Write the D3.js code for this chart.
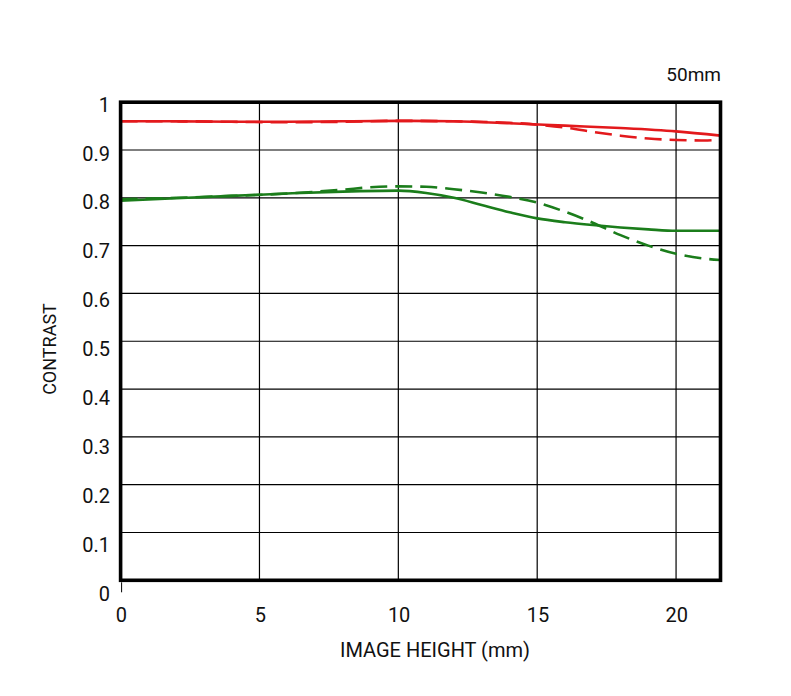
<!DOCTYPE html>
<html>
<head>
<meta charset="utf-8">
<script src="https://cdn.jsdelivr.net/npm/d3@7"></script>
<style>
  html, body { margin: 0; padding: 0; background: #fff; }
  svg { display: block; }
  text { font-family: Roboto, "Liberation Sans", sans-serif; fill: #111; }
</style>
</head>
<body>
<svg id="chart" width="791" height="696"></svg>
<script>
// ---- data ----
const lensLabel = "50mm";
const xTicks = [0, 5, 10, 15, 20];
const yTicks = [0, 0.1, 0.2, 0.3, 0.4, 0.5, 0.6, 0.7, 0.8, 0.9, 1];
const yTickLabels = ["0", "0.1", "0.2", "0.3", "0.4", "0.5", "0.6", "0.7", "0.8", "0.9", "1"];

const redSolidX = [0, 2, 4, 6, 8, 10, 12, 14, 16, 18, 20, 21.6];
const redSolidY = [0.960, 0.960, 0.959, 0.959, 0.960, 0.961, 0.960, 0.956, 0.951, 0.946, 0.939, 0.930];

const redDashX = [0, 2, 4, 6, 8, 10, 12, 14, 15, 16, 17, 18, 19, 20, 21, 21.6];
const redDashY = [0.960, 0.960, 0.959, 0.958, 0.959, 0.961, 0.960, 0.957, 0.953, 0.947, 0.938, 0.930, 0.924, 0.921, 0.920, 0.922];

const greenSolidX = [0, 2, 4, 6, 8, 10, 11, 12, 13, 14, 15, 16, 17, 18, 19, 20, 21.6];
const greenSolidY = [0.794, 0.799, 0.804, 0.809, 0.813, 0.815, 0.810, 0.800, 0.785, 0.770, 0.757, 0.749, 0.743, 0.738, 0.734, 0.731, 0.731];

const greenDashX = [0, 2, 4, 6, 8, 9, 10, 11, 12, 13, 14, 15, 16, 17, 18, 19, 20, 21, 21.6];
const greenDashY = [0.797, 0.800, 0.804, 0.809, 0.817, 0.822, 0.824, 0.823, 0.818, 0.811, 0.802, 0.790, 0.771, 0.748, 0.722, 0.700, 0.683, 0.673, 0.670];

// ---- layout ----
const svg = d3.select("#chart");
const x = d3.scaleLinear().domain([0, 21.6]).range([120.6, 720.5]);
const y = d3.scaleLinear().domain([0, 1]).range([580.3, 102.2]);
const yLab = d3.scaleLinear().domain([0, 1]).range([593.7, 104.5]);
const fs = 20;

svg.append("defs").append("clipPath").attr("id", "plotclip")
  .append("rect")
  .attr("x", x(0)).attr("y", y(1))
  .attr("width", x(21.6) - x(0)).attr("height", y(0) - y(1));

// gridlines
const grid = svg.append("g").attr("stroke", "#000").attr("stroke-width", 1.2);
grid.selectAll("line.v").data(xTicks.filter(d => d > 0)).join("line")
  .attr("x1", d => x(d)).attr("x2", d => x(d))
  .attr("y1", y(1)).attr("y2", y(0));
grid.selectAll("line.h").data(yTicks.filter(d => d > 0 && d < 1)).join("line")
  .attr("x1", x(0)).attr("x2", x(21.6))
  .attr("y1", d => y(d)).attr("y2", d => y(d));

// curves
const line = d3.line().x(d => x(d[0])).y(d => y(d[1])).curve(d3.curveMonotoneX);
const series = [
  { xs: greenDashX, ys: greenDashY, color: "#1b7d1b", dash: "17,8" },
  { xs: greenSolidX, ys: greenSolidY, color: "#1b7d1b", dash: null },
  { xs: redDashX, ys: redDashY, color: "#e3191c", dash: "17,8" },
  { xs: redSolidX, ys: redSolidY, color: "#e3191c", dash: null }
];
const curves = svg.append("g").attr("clip-path", "url(#plotclip)");
series.forEach(s => {
  curves.append("path")
    .datum(s.xs.map((v, i) => [v, s.ys[i]]))
    .attr("d", line)
    .attr("fill", "none")
    .attr("stroke", s.color)
    .attr("stroke-width", 2.6)
    .attr("stroke-dasharray", s.dash);
});

// frame
svg.append("rect")
  .attr("x", x(0)).attr("y", y(1))
  .attr("width", x(21.6) - x(0)).attr("height", y(0) - y(1))
  .attr("fill", "none").attr("stroke", "#000").attr("stroke-width", 3.6);

// small tick below origin
svg.append("line")
  .attr("x1", x(0) + 1).attr("x2", x(0) + 1)
  .attr("y1", y(0) + 2).attr("y2", y(0) + 12)
  .attr("stroke", "#000").attr("stroke-width", 1);

// y tick labels
svg.append("g").selectAll("text").data(yTicks).join("text")
  .attr("x", 110)
  .attr("y", d => yLab(d))
  .attr("dy", "0.355em")
  .attr("text-anchor", "end")
  .attr("font-size", fs)
  .text((d, i) => yTickLabels[i]);

// x tick labels
svg.append("g").selectAll("text").data(xTicks).join("text")
  .attr("x", d => x(d) + 0.8)
  .attr("y", 622)
  .attr("text-anchor", "middle")
  .attr("font-size", fs)
  .text(d => d);

// axis titles
svg.append("text")
  .attr("x", 435).attr("y", 657)
  .attr("text-anchor", "middle")
  .attr("font-size", fs)
  .text("IMAGE HEIGHT (mm)");

svg.append("text")
  .attr("transform", "translate(56,349) rotate(-90)")
  .attr("text-anchor", "middle")
  .attr("font-size", 18)
  .text("CONTRAST");

svg.append("text")
  .attr("x", 721).attr("y", 81)
  .attr("text-anchor", "end")
  .attr("font-size", 19)
  .text(lensLabel);
</script>
</body>
</html>
